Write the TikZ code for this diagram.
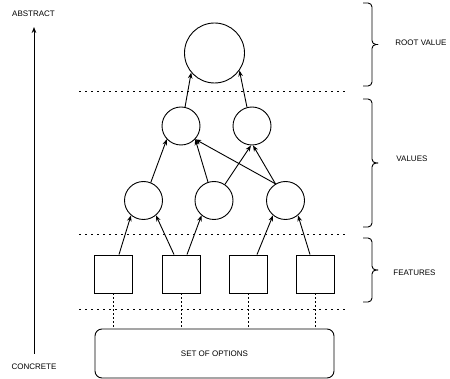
\documentclass[tikz,border=0pt]{standalone}
\usepackage{fontspec}
\setmainfont{Liberation Sans}
\usetikzlibrary{arrows.meta,calc}
\begin{document}
\begin{tikzpicture}[x=1pt,y=-1pt,line width=0.9pt,
  every node/.style={font=\fontsize{8}{9.6}\selectfont},
  val/.style={draw,circle,minimum size=38pt,inner sep=0pt},
  rootval/.style={draw,circle,minimum size=60pt,inner sep=0pt},
  feat/.style={draw,rectangle,minimum size=38pt,inner sep=0pt},
  opts/.style={draw,rectangle,rounded corners=7pt,minimum width=239pt,minimum height=49pt,inner sep=0pt},
  lbl/.style={inner sep=0pt},
  arr/.style={-{Stealth[length=6pt,width=4.6pt]}},
  sep/.style={dash pattern=on 1.5pt off 4.5pt},
  link/.style={dash pattern=on 2pt off 2pt},
  bracestyle/.style={rounded corners=4pt}]
\useasboundingbox (0,0) rectangle (450,379);

% nodes
\node[rootval] (root) at (214.5,53) {};
\node[val] (l2a) at (181,126) {};
\node[val] (l2b) at (252,126) {};
\node[val] (l3a) at (143.5,200.5) {};
\node[val] (l3b) at (214,200.5) {};
\node[val] (l3c) at (285.5,200.5) {};
\node[feat] (sq1) at (113,274) {};
\node[feat] (sq2) at (181,274) {};
\node[feat] (sq3) at (248,274) {};
\node[feat] (sq4) at (315.5,274) {};
\node[opts] (opt) at (214.5,353.5) {SET OF OPTIONS};

% labels
\node[lbl] (abstract) at (33.5,14) {ABSTRACT};
\node[lbl] (concrete) at (34,367) {CONCRETE};
\node[lbl,anchor=west] (rootlbl) at (395,43) {ROOT VALUE};
\node[lbl,anchor=west] (valueslbl) at (396,159) {VALUES};
\node[lbl,anchor=west] (featlbl) at (393,273) {FEATURES};

% left axis arrow
\coordinate (axbot) at (34,354);
\coordinate (axtop) at (34,27);
\draw[arr] (axbot) -- (axtop);

% separators
\draw[sep] (79,91) -- (345,91);
\draw[sep] (79,234) -- (345,234);
\draw[sep] (79,309) -- (345,309);

% features to options
\foreach \s in {sq1,sq2,sq3,sq4}
  \draw[link] (\s.south) -- (\s.south |- opt.north);

% features to level 3
\draw[arr] ([xshift=6pt]sq1.north) -- (l3a.-130);
\draw[arr] ([xshift=-7pt]sq2.north) -- (l3a.-50);
\draw[arr] ([xshift=6pt]sq2.north) -- (l3b.-130);
\draw[arr] ([xshift=9pt]sq3.north) -- (l3c.-130);
\draw[arr] ([xshift=-5.5pt]sq4.north) -- (l3c.-50);

% level 3 to level 2
\draw[arr] (l3a.68) -- (l2a.-137);
\draw[arr] (l3b.108) -- (l2a.-43);
\draw[arr] (l3b.56) -- (l2b.-93);
\draw[arr] (l3c.121) -- (l2a.-43);
\draw[arr] (l3c.121) -- (l2b.-87);

% level 2 to root
\draw[arr] (l2a.78) -- (root.-140);
\draw[arr] (l2b.105) -- (root.-35);

% braces
\foreach \ya/\yb in {3/86,99/227,238/302}{
  \pgfmathsetmacro\ym{(\ya+\yb)/2}
  \draw[bracestyle] (363,\ya) -- (372,\ya) -- (372,\ym) -- (378,\ym);
  \draw[bracestyle] (378,\ym) -- (372,\ym) -- (372,\yb) -- (363,\yb);
}
\end{tikzpicture}
\end{document}
